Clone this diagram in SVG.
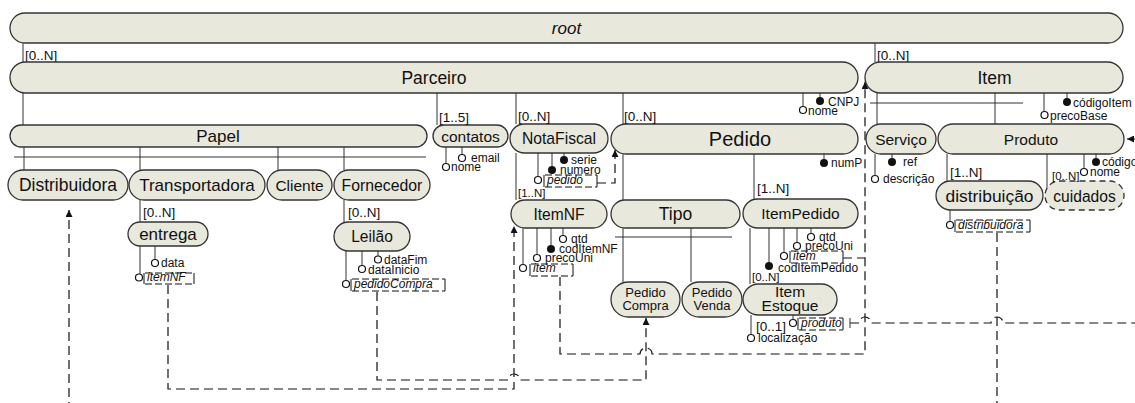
<svg xmlns="http://www.w3.org/2000/svg" width="1135" height="403" viewBox="0 0 1135 403">
<defs>
<style>
.n{fill:#e8e8dd;stroke:#333;stroke-width:1.3}
.nd{fill:#e8e8dd;stroke:#333;stroke-width:1.3;stroke-dasharray:6,4}
.t{font-family:"Liberation Sans",Arial,sans-serif;fill:#111;text-anchor:middle}
.a{font-family:"Liberation Sans",Arial,sans-serif;font-size:12px;fill:#111}
.ai{font-family:"Liberation Sans",Arial,sans-serif;font-size:12px;fill:#111;font-style:italic}
.c{font-family:"Liberation Sans",Arial,sans-serif;font-size:13.5px;fill:#111}
.cs{font-family:"Liberation Sans",Arial,sans-serif;font-size:11.5px;fill:#111}
.l{stroke:#333;stroke-width:1;fill:none}
.k{fill:#111}
.o{fill:#fff;stroke:#111;stroke-width:1.2}
.d{stroke:#111;stroke-width:1.2;fill:none;stroke-dasharray:9,5}
.rb{stroke:#111;stroke-width:1;fill:none;stroke-dasharray:7,3}
.rs{stroke:#111;stroke-width:1;fill:none}
</style>
<marker id="ar" viewBox="0 0 10 10" refX="10" refY="5" markerWidth="8" markerHeight="7" markerUnits="userSpaceOnUse" orient="auto">
<path d="M0,0 L10,5 L0,10 Z" fill="#111"/>
</marker>
</defs>
<rect width="1135" height="403" fill="#fff"/>

<g id="connectors">
<path class="l" d="M23,43 V62 M875,43 V62 M23,93 V125 M437,93 V125 M516,93 V124 M623,93 V124"/>
<path class="l" d="M24,147 V170 M140,147 V170 M278,147 V170 M344,147 V170 M14,157 H426"/>
<path class="l" d="M140,200 V222 M344,200 V222"/>
<path class="l" d="M516,153 V200 M623,154 V200 M754,154 V199"/>
<path class="l" d="M623,228 V282 M691,228 V282 M615,237 H732 M750,228 V284"/>
<path class="l" d="M877,93 V124 M995,93 V124 M870,103 H1023"/>
<path class="l" d="M947,154 V181 M1047,154 V189"/>
<path class="d" d="M597,183 H615 V150" marker-end="url(#ar)"/>
<path class="d" d="M168,285 V389 H514 V226" marker-end="url(#ar)"/>
<path class="d" d="M377,292 V380 H508 A6,6 0 0 1 520,380 H646 V318" marker-end="url(#ar)"/>
<path class="d" d="M560,277 V354 H640 A6,6 0 0 1 652,354 H865 V82" marker-end="url(#ar)"/>
<path class="d" d="M843,258 H865"/>
<path class="d" d="M850,323 H859 A6,6 0 0 1 871,323 H991 A6,6 0 0 1 1003,323 H1150 V139 H1127" marker-end="url(#ar)"/>
<path class="d" d="M997,233 V418 H69 V210" marker-end="url(#ar)"/>
</g>

<g id="root"><rect class="n" x="10" y="13" width="1113" height="30" rx="15"/><text class="t" x="566.5" y="34" font-size="17" font-style="italic">root</text></g>
<text class="c" x="25" y="60">[0..N]</text>
<text class="c" x="877" y="60">[0..N]</text>

<g id="parceiro"><rect class="n" x="10" y="62" width="848" height="31" rx="15.5"/><text class="t" x="434" y="84" font-size="17.5">Parceiro</text>
<path class="l" d="M803,93 V106.5 M820,93 V97.5"/><circle class="o" cx="803" cy="110" r="3.5"/><circle class="k" cx="820" cy="101" r="4"/>
<text class="a" x="808" y="115">nome</text><text class="a" x="828" y="106">CNPJ</text></g>

<g id="item"><rect class="n" x="865" y="62" width="258" height="31" rx="15.5"/><text class="t" x="994.5" y="84" font-size="17.5">Item</text>
<path class="l" d="M1044,93 V111.5 M1067,93 V98.5"/><circle class="o" cx="1044.5" cy="115" r="3.5"/><circle class="k" cx="1067" cy="102" r="4"/>
<text class="a" x="1050" y="120">precoBase</text><text class="a" x="1073" y="107">códigoItem</text></g>

<g id="papel"><rect class="n" x="10" y="125" width="417" height="22" rx="11"/><text class="t" x="218" y="142" font-size="17">Papel</text></g>

<g id="contatos"><rect class="n" x="433" y="125" width="75" height="22" rx="11"/><text class="t" x="470.5" y="141.5" font-size="15.5">contatos</text>
<text class="c" x="439" y="122">[1..5]</text>
<path class="l" d="M446,147 V163.5 M462,147 V154.5"/><circle class="o" cx="446" cy="167" r="3.5"/><circle class="o" cx="462" cy="158" r="3.5"/>
<text class="a" x="451" y="171">nome</text><text class="a" x="471" y="162">email</text></g>

<g id="notafiscal"><rect class="n" x="510" y="124" width="98" height="29" rx="14.5"/><text class="t" x="559" y="144" font-size="15.7">NotaFiscal</text>
<text class="c" x="518" y="121">[0..N]</text>
<path class="l" d="M538,153 V176.5 M552,153 V166 M564,153 V156"/>
<circle class="k" cx="564" cy="160" r="4"/><circle class="k" cx="552" cy="170" r="4"/><circle class="o" cx="538" cy="180" r="3.5"/>
<text class="a" x="571" y="164">serie</text><text class="a" x="560" y="174">numero</text><text class="ai" x="547" y="184">pedido</text>
<path class="rb" d="M545,175 H597 M545,187 H597"/><path class="rs" d="M544,175 V187 M597,175 V187"/></g>

<g id="pedido"><rect class="n" x="611" y="124" width="247" height="30" rx="15"/><text class="t" x="740" y="146" font-size="20">Pedido</text>
<text class="c" x="624" y="121">[0..N]</text>
<path class="l" d="M824,154 V159"/><circle class="k" cx="824" cy="163" r="4"/><text class="a" x="831" y="167">numP</text></g>

<g id="servico"><rect class="n" x="866" y="124" width="70" height="30" rx="15"/><text class="t" x="901" y="144.5" font-size="15.5">Serviço</text>
<path class="l" d="M875,154 V175.5 M892,154 V158"/><circle class="k" cx="892" cy="162" r="4"/><circle class="o" cx="875" cy="179" r="3.5"/>
<text class="a" x="903" y="166">ref</text><text class="a" x="883" y="183">descrição</text></g>

<g id="produto"><rect class="n" x="938" y="124" width="186" height="30" rx="15"/><text class="t" x="1031" y="144.5" font-size="15.5">Produto</text>
<path class="l" d="M1084,154 V168.5 M1096,154 V158"/><circle class="k" cx="1096" cy="162" r="4"/><circle class="o" cx="1084" cy="172" r="3.5"/>
<text class="a" x="1102" y="166">código</text><text class="a" x="1090" y="176">nome</text></g>

<g id="distribuidora"><rect class="n" x="8" y="170" width="120" height="30" rx="15"/><text class="t" x="68" y="191" font-size="17.5">Distribuidora</text></g>
<g id="transportadora"><rect class="n" x="129" y="170" width="136" height="30" rx="15"/><text class="t" x="197" y="191" font-size="17">Transportadora</text></g>
<g id="cliente"><rect class="n" x="267" y="170" width="65" height="30" rx="15"/><text class="t" x="299.5" y="191" font-size="15.5">Cliente</text></g>
<g id="fornecedor"><rect class="n" x="334" y="170" width="96" height="30" rx="15"/><text class="t" x="382" y="191" font-size="15.8">Fornecedor</text></g>

<g id="entrega"><rect class="n" x="128" y="222" width="80" height="24" rx="12"/><text class="t" x="168" y="240" font-size="17">entrega</text>
<text class="c" x="143" y="217">[0..N]</text>
<path class="l" d="M140,246 V274 M155,246 V259.5"/><circle class="o" cx="155" cy="263" r="3.5"/><circle class="o" cx="139" cy="277.5" r="3.5"/>
<text class="a" x="161" y="267">data</text><text class="ai" x="147" y="281">itemNF</text>
<path class="rb" d="M145,273 H194 M145,284 H194"/><path class="rs" d="M144,273 V284 M194,273 V284"/></g>

<g id="leilao"><rect class="n" x="334" y="222" width="76" height="29" rx="14.5"/><text class="t" x="372" y="242" font-size="15.6">Leilão</text>
<text class="c" x="348" y="217">[0..N]</text>
<path class="l" d="M346,251 V280.5 M362,251 V265.5 M378,251 V256"/>
<circle class="o" cx="378" cy="259.5" r="3.5"/><circle class="o" cx="362" cy="269" r="3.5"/><circle class="o" cx="346" cy="284" r="3.5"/>
<text class="a" x="384" y="264">dataFim</text><text class="a" x="368" y="274">dataInicio</text><text class="ai" x="354" y="288">pedidoCompra</text>
<path class="rb" d="M352,279 H445 M352,291 H445"/><path class="rs" d="M351,279 V291 M445,279 V291"/></g>

<g id="itemnf"><rect class="n" x="511" y="200" width="96" height="28" rx="14"/><text class="t" x="559" y="219.5" font-size="15.6">ItemNF</text>
<text class="cs" x="518" y="197">[1..N]</text>
<path class="l" d="M523,228 V264.5 M537,228 V254.5 M551,228 V245 M563,228 V235.5"/>
<circle class="o" cx="563" cy="239" r="3.5"/><circle class="k" cx="551" cy="249" r="4"/><circle class="o" cx="537" cy="258" r="3.5"/><circle class="o" cx="523" cy="268" r="3.5"/>
<text class="a" x="571" y="243">qtd</text><text class="a" x="559" y="253">codItemNF</text><text class="a" x="545" y="262">precoUni</text><text class="ai" x="533" y="272">item</text>
<path class="rb" d="M531,264 H573 M531,276 H573"/><path class="rs" d="M530,264 V276 M573,264 V276"/></g>

<g id="tipo"><rect class="n" x="611" y="200" width="129" height="28" rx="14"/><text class="t" x="675.5" y="220" font-size="17.5">Tipo</text></g>

<g id="itempedido"><rect class="n" x="743" y="199" width="115" height="29" rx="14.5"/><text class="t" x="800.5" y="219" font-size="15.5">ItemPedido</text>
<text class="c" x="757" y="193">[1..N]</text>
<path class="l" d="M769,228 V262 M784,228 V252.5 M797,228 V242.5 M811,228 V233.5"/>
<circle class="o" cx="811" cy="237" r="3.5"/><circle class="o" cx="797" cy="246" r="3.5"/><circle class="o" cx="784" cy="256" r="3.5"/><circle class="k" cx="769" cy="266" r="4"/>
<text class="a" x="819" y="241">qtd</text><text class="a" x="805" y="250">precoUni</text><text class="ai" x="793" y="260">item</text><text class="a" x="778" y="272">codItemPedido</text>
<path class="rb" d="M791,251 H843 M791,263 H843"/><path class="rs" d="M790,251 V263 M843,251 V263"/></g>

<g id="pedidocompra"><rect class="n" x="611" y="282" width="69" height="35" rx="17.5"/><text class="t" x="645.5" y="297" font-size="13">Pedido</text><text class="t" x="645.5" y="310" font-size="13">Compra</text></g>
<g id="pedidovenda"><rect class="n" x="682" y="282" width="60" height="35" rx="17.5"/><text class="t" x="712" y="297" font-size="13">Pedido</text><text class="t" x="712" y="310" font-size="13">Venda</text></g>

<g id="itemestoque"><rect class="n" x="743" y="284" width="94" height="31" rx="15.5"/><text class="t" x="790" y="297" font-size="15.5">Item</text><text class="t" x="790" y="310.5" font-size="15.5">Estoque</text>
<text class="cs" x="752" y="281">[0..N]</text>
<text class="c" x="756" y="331">[0..1]</text>
<path class="l" d="M751,315 V334.5 M793,315 V319.5 M850,318 V328"/>
<circle class="o" cx="751" cy="338" r="3.5"/><circle class="o" cx="793" cy="323" r="3.5"/>
<text class="a" x="758" y="342">localização</text><text class="ai" x="801" y="327">produto</text>
<path class="rb" d="M799,318 H843 M799,330 H843"/><path class="rs" d="M798,318 V330 M843,318 V330"/></g>

<g id="distribuicao"><rect class="n" x="936" y="181" width="107" height="29" rx="14.5"/><text class="t" x="989.5" y="201.5" font-size="17.4">distribuição</text>
<text class="c" x="950" y="177">[1..N]</text>
<path class="l" d="M950,210 V221.5"/><circle class="o" cx="950" cy="225" r="3.5"/>
<text class="ai" x="958" y="229">distribuidora</text>
<path class="rb" d="M956,220 H1030 M956,232 H1030"/><path class="rs" d="M955,220 V232 M1030,220 V232"/></g>

<g id="cuidados"><rect class="nd" x="1045" y="181" width="79" height="29" rx="14.5"/><text class="t" x="1084.5" y="201.5" font-size="15.6">cuidados</text>
<text class="cs" x="1052" y="180">[0..N]</text></g>
</svg>
